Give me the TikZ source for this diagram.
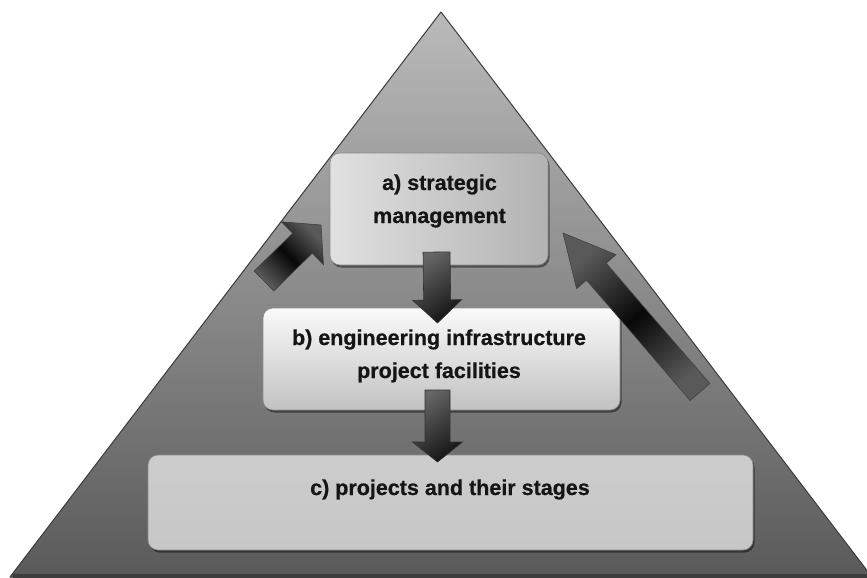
\documentclass[tikz,border=0pt]{standalone}
\usepackage{fontspec}
\setmainfont{Liberation Sans}
\newfontfamily\lblfont{Liberation Sans}[BoldFeatures={FakeBold=0.6}]
\usetikzlibrary{calc,shadows}
\definecolor{txt}{HTML}{151515}
\definecolor{trtop}{HTML}{BABABA}
\definecolor{trmid}{HTML}{8E8E8E}
\definecolor{trbot}{HTML}{5A5A5A}
\definecolor{edge}{HTML}{3C3C3C}
\definecolor{boxline}{HTML}{8A8A8A}
\newcommand{\blockarr}[6][]{%
  \coordinate (#3-hb) at ($(#3)!#6!(#2)$);
  \path[#1] ($(#2)!#4!90:(#3)$) -- ($(#3-hb)!#4!90:(#3)$) -- ($(#3-hb)!#5!90:(#3)$)
    -- (#3) -- ($(#3-hb)!#5!-90:(#3)$) -- ($(#3-hb)!#4!-90:(#3)$)
    -- ($(#2)!#4!-90:(#3)$) -- cycle;}
\tikzset{
  stage/.style={draw=boxline, line width=0.6pt, rounded corners=10pt, inner sep=0pt,
    drop shadow={shadow xshift=1.5pt, shadow yshift=-2.5pt, opacity=0.45, fill=black}},
  lbl/.style={anchor=base, inner sep=0pt, text=txt, font=\lblfont\fontsize{21.5}{26}\selectfont\bfseries},
  darrow/.style={draw=black!80, line width=0.6pt, top color=black!60, bottom color=black!92, shading angle=35},
  bigarrow/.style={draw=black!75, line width=0.6pt, left color=black!65, right color=black!65, middle color=black!97}
}
\begin{document}
\begin{tikzpicture}[x=1pt,y=-1pt]
\useasboundingbox (0,0) rectangle (867,578);
% pyramid
\coordinate (apex) at (441,12);
\coordinate (bl) at (10,577);
\coordinate (br) at (872,577);
\shade[top color=trtop, middle color=trmid, bottom color=trbot] (apex) -- (br) -- (bl) -- cycle;
\draw[edge, line width=1pt, line join=round] (apex) -- (br) -- (bl) -- cycle;
\draw[edge, line width=4pt] ($(bl)+(3,-1)$) -- ($(br)+(-3,-1)$);
% boxes
\node[stage, minimum width=218pt, minimum height=112pt, left color=white!88!black, right color=white!70!black] (a) at (439,209) {};
\node[stage, minimum width=357pt, minimum height=102pt, top color=white!98!black, bottom color=white!76!black] (b) at (441.5,359) {};
\node[stage, minimum width=605pt, minimum height=95pt, top color=white!80!black, middle color=white!65!black, bottom color=white!78!black] (c) at (450.5,502.5) {};
% labels
\node[lbl] (a1) at (439.5,190) {a) strategic};
\node[lbl] (a2) at (439.5,223) {management};
\node[lbl] (b1) at (439,345) {b) engineering infrastructure};
\node[lbl] (b2) at (439,378) {project facilities};
\node[lbl] (c1) at (450,495) {c) projects and their stages};
% down arrows
\coordinate (ab0) at (436.5,252);
\coordinate (ab1) at (437.5,323);
\blockarr[darrow]{ab0}{ab1}{13.5pt}{24.5pt}{23pt}
\coordinate (bc0) at (437.5,390);
\coordinate (bc1) at (437.5,462);
\blockarr[darrow]{bc0}{bc1}{12.5pt}{25pt}{20pt}
% side arrows
\coordinate (l0) at (264,281);
\coordinate (l1) at (321,225);
\blockarr[bigarrow, shading angle=-45]{l0}{l1}{14pt}{30pt}{26pt}
\coordinate (r0) at (700,392);
\coordinate (r1) at (563,233);
\blockarr[bigarrow, shading angle=40]{r0}{r1}{13pt}{26pt}{51pt}
\end{tikzpicture}
\end{document}
